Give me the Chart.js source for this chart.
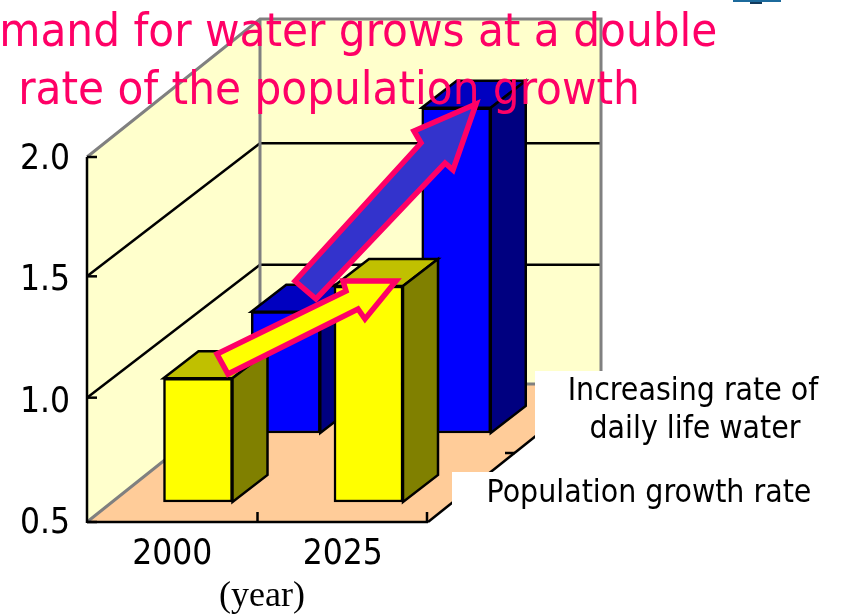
<!DOCTYPE html>
<html>
<head>
<meta charset="utf-8">
<title>Water demand</title>
<style>
  html, body { margin: 0; padding: 0; background: #fff; overflow: hidden; }
  #wrap { position: relative; width: 844px; height: 615px; }
</style>
<script src="https://cdn.jsdelivr.net/npm/chart.js@4"></script>
</head>
<body>
<div id="wrap"><canvas id="waterChart" width="844" height="615"></canvas></div>
<script>
// === DATA ===
const years = ['2000', '2025'];
const populationRate = [1.01, 1.39];
const waterRate = [1.0, 1.84];
const yTicks = [0.5, 1.0, 1.5, 2.0];
const titleLines = ['Demand for water grows at a double', 'rate of the population growth'];
const waterLabel = ['Increasing rate of', 'daily life water'];
const populationLabel = 'Population growth rate';
const yearLabel = '(year)';

const FAMILY = 'DejaVu Sans Condensed';
const FONT = '"DejaVu Sans Condensed", "DejaVu Sans", sans-serif';
const DEPTH_X = 173, DEPTH_Y = -136;
const BAR_DX = 35, BAR_DY = -27;

function poly(ctx, pts, fill, stroke, lw) {
  ctx.beginPath();
  pts.forEach(function (p, i) { i ? ctx.lineTo(p[0], p[1]) : ctx.moveTo(p[0], p[1]); });
  ctx.closePath();
  if (fill) { ctx.fillStyle = fill; ctx.fill(); }
  if (stroke) { ctx.strokeStyle = stroke; ctx.lineWidth = lw; ctx.lineJoin = 'miter'; ctx.stroke(); }
}

function line(ctx, x1, y1, x2, y2, color, lw) {
  ctx.beginPath();
  ctx.moveTo(x1, y1);
  ctx.lineTo(x2, y2);
  ctx.strokeStyle = color;
  ctx.lineWidth = lw;
  ctx.stroke();
}

// walls, floor and grid of the 3D box, behind the bars
const boxPlugin = {
  id: 'box',
  beforeDatasetsDraw: function (chart) {
    const ctx = chart.ctx, a = chart.chartArea, yS = chart.scales.y, xS = chart.scales.x;
    const l = a.left, r = a.right, t = a.top, b = yS.getPixelForValue(0.5) + 1;
    const backTop = t - 138, backBot = b + DEPTH_Y - 2;
    ctx.save();
    poly(ctx, [[l, b], [l + DEPTH_X, backBot], [l + DEPTH_X, backTop], [l, t]], '#FFFFCC');
    poly(ctx, [[l + DEPTH_X, backBot], [r + DEPTH_X, backBot], [r + DEPTH_X, backTop], [l + DEPTH_X, backTop]], '#FFFFCC');
    poly(ctx, [[l, b], [r, b], [r + DEPTH_X, backBot], [l + DEPTH_X, backBot]], '#FFCC99');

    yTicks.slice(1, 3).forEach(function (v) {
      const y = yS.getPixelForValue(v) - 2;
      line(ctx, l, y, l + DEPTH_X, y + DEPTH_Y + 3, '#000', 2.5);
      line(ctx, l + DEPTH_X, y + DEPTH_Y + 3, r + DEPTH_X, y + DEPTH_Y + 3, '#000', 2.5);
    });

    // gray frame
    ctx.beginPath();
    ctx.moveTo(l, t);
    ctx.lineTo(l + DEPTH_X, backTop);
    ctx.lineTo(r + DEPTH_X, backTop);
    ctx.lineTo(r + DEPTH_X, backBot);
    ctx.lineTo(l + DEPTH_X, backBot);
    ctx.lineTo(l, b);
    ctx.moveTo(l + DEPTH_X, backTop);
    ctx.lineTo(l + DEPTH_X, backBot);
    ctx.strokeStyle = '#808080';
    ctx.lineWidth = 3;
    ctx.stroke();

    // axes
    line(ctx, l, t, l, b + 1, '#000', 2.5);
    line(ctx, l, b, r, b, '#000', 2.5);
    line(ctx, r, b, r + DEPTH_X, backBot, '#000', 2.5);
    yTicks.forEach(function (v) {
      const y = v === 0.5 ? b : yS.getPixelForValue(v) - (v === 2 ? 0 : 2);
      line(ctx, l, y, l + 10, y, '#000', 2.5);
    });
    const mid = (xS.getPixelForValue(0) + xS.getPixelForValue(1)) / 2;
    line(ctx, mid, b, mid, b - 10, '#000', 2.5);
    line(ctx, r - 1, b, r - 1, b - 10, '#000', 2.5);
    line(ctx, r + 77, b - 69, r + 87, b - 69, '#000', 2.5);
    ctx.restore();
  },
  // each series stands at its own depth, so move the canvas before the library draws it
  beforeDatasetDraw: function (chart, args) {
    const ctx = chart.ctx, ds = chart.data.datasets[args.index];
    const meta = chart.getDatasetMeta(args.index);
    ctx.save();
    ctx.translate(ds.shiftX, ds.shiftY);
    meta.data.forEach(function (bar) {
      const x0 = bar.x - bar.width / 2, x1 = bar.x + bar.width / 2;
      poly(ctx, [[x0, bar.y], [x0 + BAR_DX, bar.y + BAR_DY], [x1 + BAR_DX, bar.y + BAR_DY], [x1, bar.y]], ds.topColor, '#000', 2.5);
      poly(ctx, [[x1, bar.y], [x1 + BAR_DX, bar.y + BAR_DY], [x1 + BAR_DX, bar.base + BAR_DY], [x1, bar.base]], ds.sideColor, '#000', 2.5);
    });
  },
  afterDatasetDraw: function (chart) {
    chart.ctx.restore();
  },
};

function drawArrow(ctx, pts, fill) {
  poly(ctx, pts, fill, '#FF0066', 5.5);
}

// labels, arrows and title, on top of everything
const overlayPlugin = {
  id: 'overlay',
  afterDraw: function (chart) {
    const ctx = chart.ctx;
    ctx.save();

    // white label boxes cover the corner of the chart
    ctx.fillStyle = '#fff';
    ctx.fillRect(535, 371, 309, 102);
    ctx.fillRect(452, 472, 392, 143);

    ctx.textBaseline = 'alphabetic';
    ctx.fillStyle = '#000';
    ctx.font = '31.7px ' + FONT;
    ctx.textAlign = 'center';
    ctx.fillText(waterLabel[0], 693, 400);
    ctx.fillText(waterLabel[1], 695, 438);
    ctx.fillText(populationLabel, 649, 502);
    ctx.font = '36px "Liberation Serif", serif';
    ctx.fillText(yearLabel, 262, 606);

    drawArrow(ctx, [[295, 281], [421, 143], [414, 131], [476, 104], [453, 170], [445, 163], [316, 299]], '#3333CC');
    drawArrow(ctx, [[217, 354], [346, 291], [343, 281], [396, 281], [365, 319], [358, 309], [228, 374]], '#FFFF00');

    ctx.fillStyle = '#FF0066';
    ctx.font = '47px ' + FONT;
    ctx.fillText(titleLines[0], 329, 46);
    ctx.fillText(titleLines[1], 329, 104);

    // corner of a logo cut off by the page edge
    ctx.fillStyle = '#1c6a9c';
    ctx.fillRect(733, 0, 48, 2);
    ctx.fillStyle = '#123a5c';
    ctx.fillRect(750, 2, 12, 2);
    ctx.restore();
  },
};

new Chart(document.getElementById('waterChart'), {
  type: 'bar',
  data: {
    labels: years,
    datasets: [
      {
        label: populationLabel,
        // floating from the axis floor, the axis does not start at zero
        data: populationRate.map(function (v) { return [yTicks[0], v]; }),
        backgroundColor: '#FFFF00',
        topColor: '#C0C000',
        sideColor: '#808000',
        shiftX: 25.75,
        shiftY: -19,
      },
      {
        label: waterLabel.join(' '),
        data: waterRate.map(function (v) { return [yTicks[0], v]; }),
        backgroundColor: '#0000FF',
        topColor: '#0000C0',
        sideColor: '#000080',
        shiftX: 113.5,
        shiftY: -88,
      },
    ],
  },
  plugins: [boxPlugin, overlayPlugin],
  options: {
    responsive: false,
    animation: false,
    layout: { padding: { top: 157, left: 0, right: 416, bottom: 0 } },
    datasets: { bar: { grouped: false, barThickness: 69, borderColor: '#000', borderWidth: 2.5, borderSkipped: false, clip: false } },
    plugins: { legend: { display: false }, tooltip: { enabled: false } },
    scales: {
      x: {
        grid: { display: false },
        border: { display: false },
        afterFit: function (s) { s.height = 94; },
        ticks: { color: '#000', font: { family: FAMILY, size: 35 }, padding: 5, maxRotation: 0 },
      },
      y: {
        min: 0.5,
        max: 2.0,
        grid: { display: false },
        border: { display: false },
        afterFit: function (s) { s.width = 87; },
        afterBuildTicks: function (s) { s.ticks = yTicks.map(function (v) { return { value: v }; }); },
        ticks: {
          color: '#000',
          font: { family: FAMILY, size: 35 },
          padding: 9,
          labelOffset: 3,
          callback: function (v) { return v.toFixed(1); },
        },
      },
    },
  },
});
</script>
</body>
</html>
